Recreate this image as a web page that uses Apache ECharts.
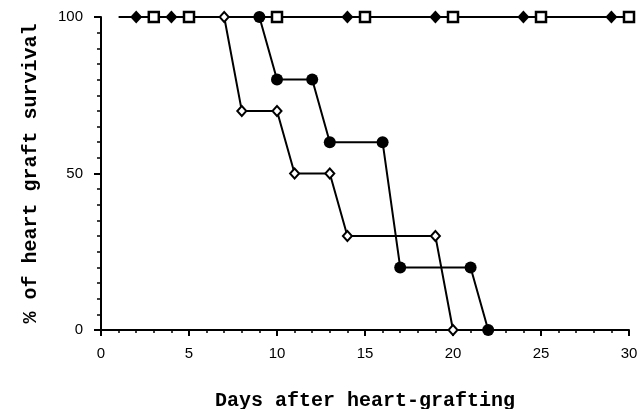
<!DOCTYPE html>
<html>
<head>
<meta charset="utf-8">
<script src="https://cdn.jsdelivr.net/npm/echarts@6/dist/echarts.min.js"></script>
<style>html,body{margin:0;padding:0;background:#fff}#c{width:639px;height:409px}</style>
</head>
<body>
<div id="c"></div>
<script>
// Filled diamonds (all survive); first point is the line start with no marker
const filledDiamondDays = [1, 2, 4, 14, 19, 24, 29];
const filledDiamondVals = [100, 100, 100, 100, 100, 100, 100];
// Open squares (all survive)
const openSquareDays = [3, 5, 10, 15, 20, 25, 30];
const openSquareVals = [100, 100, 100, 100, 100, 100, 100];
// Open diamonds
const openDiamondDays = [7, 8, 10, 11, 13, 14, 19, 20];
const openDiamondVals = [100, 70, 70, 50, 50, 30, 30, 0];
// Filled circles
const filledCircleDays = [9, 10, 12, 13, 16, 17, 21, 22];
const filledCircleVals = [100, 80, 80, 60, 60, 20, 20, 0];

const xTicks = [0, 5, 10, 15, 20, 25, 30];
const yTicks = [0, 50, 100];

function pairs(xs, ys) { return xs.map((x, i) => [x, ys[i]]); }

const chart = echarts.init(document.getElementById('c'), null, {renderer: 'canvas'});
const lineStyle = {color: '#000', width: 2};
const labelFont = {color: '#000', fontFamily: 'Liberation Sans', fontSize: 15};
chart.setOption({
  animation: false,
  backgroundColor: '#fff',
  grid: {left: 101, right: 10, top: 17, bottom: 79, outerBoundsMode: 'none', containLabel: false},
  xAxis: {
    type: 'value', min: xTicks[0], max: xTicks[xTicks.length - 1], interval: 5,
    name: 'Days after heart-grafting', nameLocation: 'middle', nameGap: 61,
    nameTextStyle: {color: '#000', fontFamily: 'Liberation Mono', fontWeight: 'bold', fontSize: 20},
    axisLine: {lineStyle: {color: '#000', width: 2}},
    axisTick: {length: 6, lineStyle: {color: '#000', width: 2}},
    minorTick: {show: true, splitNumber: 5, length: 3, lineStyle: {color: '#000', width: 1.5}},
    axisLabel: Object.assign({margin: 16}, labelFont),
    splitLine: {show: false}
  },
  yAxis: {
    type: 'value', min: yTicks[0], max: yTicks[yTicks.length - 1], interval: 50,
    name: '% of heart graft survival', nameLocation: 'middle', nameGap: 60,
    nameTextStyle: {color: '#000', fontFamily: 'Liberation Mono', fontWeight: 'bold', fontSize: 20},
    axisLine: {lineStyle: {color: '#000', width: 2}},
    axisTick: {length: 7, lineStyle: {color: '#000', width: 2}},
    minorTick: {show: true, splitNumber: 10, length: 4, lineStyle: {color: '#000', width: 1.5}},
    axisLabel: Object.assign({margin: 18}, labelFont),
    splitLine: {show: false}
  },
  series: [
    {
      type: 'line', z: 2, clip: false,
      data: pairs(filledDiamondDays, filledDiamondVals).map((p, i) => i === 0 ? {value: p, symbol: 'none'} : p),
      symbol: 'diamond', symbolSize: [12, 13], showAllSymbol: true,
      itemStyle: {color: '#000'}, lineStyle
    },
    {
      type: 'line', z: 3, clip: false,
      data: pairs(openSquareDays, openSquareVals),
      symbol: 'rect', symbolSize: 10, showAllSymbol: true,
      itemStyle: {color: '#fff', borderColor: '#000', borderWidth: 2.5}, lineStyle
    },
    {
      type: 'line', z: 4, clip: false,
      data: pairs(openDiamondDays, openDiamondVals),
      symbol: 'diamond', symbolSize: [9, 10], showAllSymbol: true,
      itemStyle: {color: '#fff', borderColor: '#000', borderWidth: 2}, lineStyle
    },
    {
      type: 'line', z: 5, clip: false,
      data: pairs(filledCircleDays, filledCircleVals),
      symbol: 'circle', symbolSize: 12, showAllSymbol: true,
      itemStyle: {color: '#000'}, lineStyle
    }
  ]
});
</script>
</body>
</html>
